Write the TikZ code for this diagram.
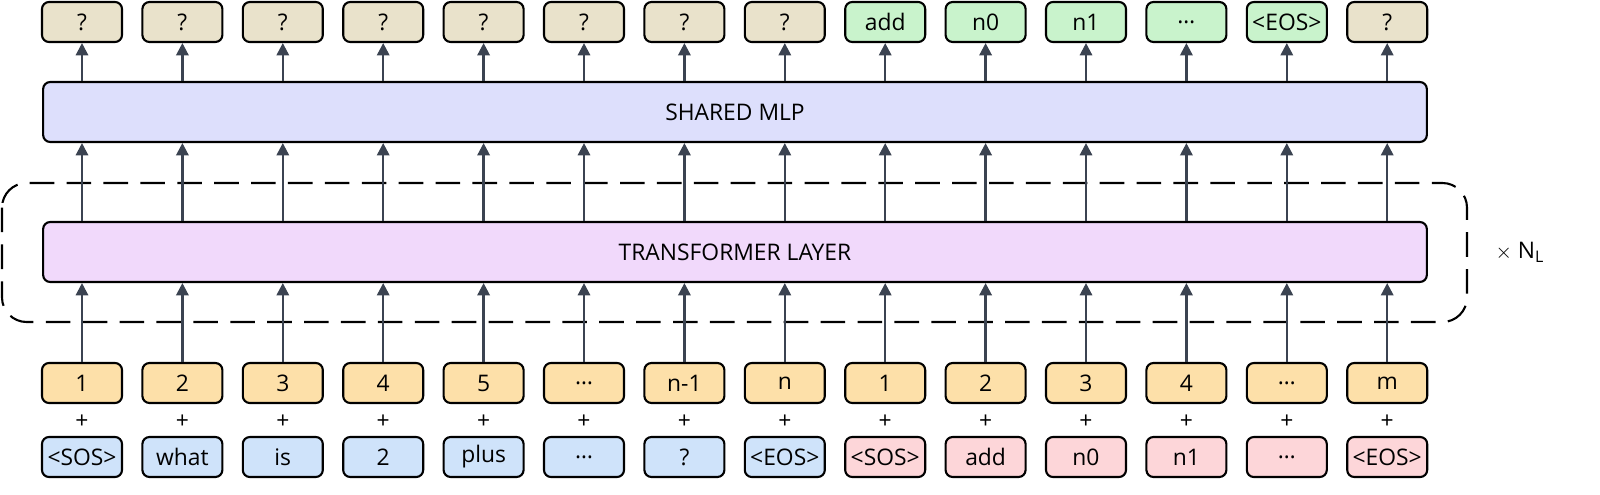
\documentclass[tikz,border=0pt]{standalone}
\usepackage{fontspec}
\setmainfont{Open Sans}
\usetikzlibrary{positioning,arrows.meta}
\definecolor{cQ}{HTML}{E9E2CB}
\definecolor{cOut}{HTML}{C9F3CC}
\definecolor{cMlp}{HTML}{DDDFFC}
\definecolor{cTf}{HTML}{F1D9FB}
\definecolor{cPos}{HTML}{FDE0A9}
\definecolor{cIn}{HTML}{CFE3FA}
\definecolor{cAns}{HTML}{FDD6D9}
\definecolor{cArr}{HTML}{3B4351}
\newcommand{\dd}{\ldots}
\begin{document}
\begin{tikzpicture}[x=0.02cm,y=-0.02cm]
\tikzset{ >={Triangle[length=7pt,width=7pt]},
  box/.style={draw=black, line width=1.2pt, rounded corners=4pt, minimum width=1.6cm,
    minimum height=0.8cm, inner sep=0pt, font=\fontsize{13}{14}\selectfont},
  wide/.style={box, minimum width=27.68cm, minimum height=1.2cm},
  up/.style={->, cArr, line width=1.3pt},
}
\useasboundingbox (0,0) rectangle (1600,494);

\node [wide, fill=cMlp] (MLP) at (735,112) {SHARED MLP};
\node [wide, fill=cTf]  (TF)  at (735,252) {TRANSFORMER LAYER};
\draw [dashed, dash pattern=on 14pt off 7pt, line width=1.2pt, rounded corners=14pt]
  (2,183) rectangle (1467,322);
\node (NL) at (1520,252) {\fontsize{13}{14}\selectfont $\times$ N\textsubscript{L}};

\foreach \i/\o/\p/\t/\c in {1/?/1/<SOS>/cIn, 2/?/2/what/cIn, 3/?/3/is/cIn, 4/?/4/2/cIn,
    5/?/5/plus/cIn, 6/?/\dd/\dd/cIn, 7/?/n-1/?/cIn, 8/?/n/<EOS>/cIn,
    9/add/1/<SOS>/cAns, 10/n0/2/add/cAns, 11/n1/3/n0/cAns, 12/\dd/4/n1/cAns,
    13/<EOS>/\dd/\dd/cAns, 14/?/m/<EOS>/cAns}
{
  \pgfmathsetmacro{\xx}{82+(\i-1)*100.4}
  \ifnum\i=14 \def\fo{cQ}\else\ifnum\i>8 \def\fo{cOut}\else\def\fo{cQ}\fi\fi
  \node [box, fill=\fo] (out\i) at (\xx,22) {\o};
  \node [box, fill=cPos] (pos\i) at (\xx,383) {\p};
  \node (plus\i) at (\xx,422) {\fontsize{13}{14}\selectfont +};
  \node [box, fill=\c] (tok\i) at (\xx,457) {\t};
  \draw [up] (pos\i.north) -- (pos\i.north |- TF.south);
  \draw [up] (TF.north -| pos\i) -- (MLP.south -| pos\i);
  \draw [up] (MLP.north -| out\i) -- (out\i.south);
}

\end{tikzpicture}
\end{document}
